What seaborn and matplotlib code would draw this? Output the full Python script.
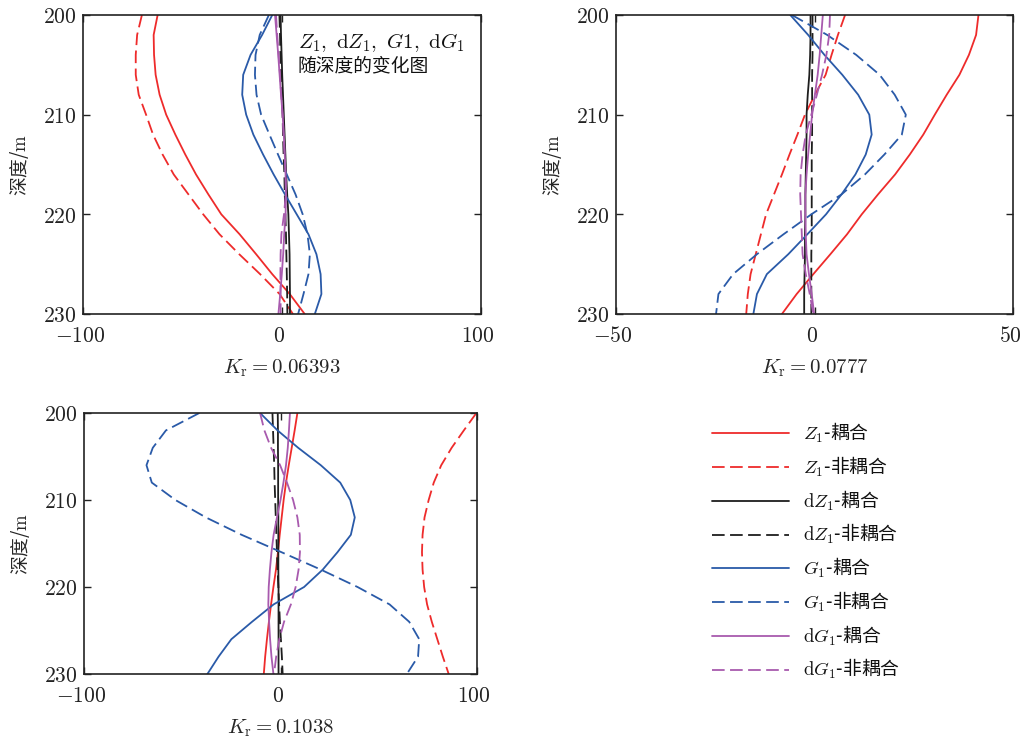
import numpy as np
import pandas as pd
import matplotlib
matplotlib.use("Agg")
import matplotlib.pyplot as plt
from matplotlib.ticker import FuncFormatter
from matplotlib.transforms import ScaledTranslation
import seaborn as sns

# ── DATA ──────────────────────────────────────────────────────────────────────
DEPTH = [200, 202, 204, 206, 208, 210, 212, 214, 216, 218, 220, 222, 224, 226, 228, 230]

# panel 1, Kr = 0.06393
P1_Z1_C  = [-62.5, -64.5, -64.3, -63.5, -61.5, -58.2, -53.6, -48.6, -43.2, -37.0, -30.5, -21.3, -13.0, -4.9, 3.9, 11.4]
P1_Z1_N  = [-70.4, -72.8, -73.5, -73.5, -72.0, -68.3, -64.8, -60.0, -54.4, -47.0, -39.6, -31.4, -21.5, -11.0, -1.2, 5.5]
P1_DZ1_C = [-0.7, -0.5, -0.2, 0.1, 0.5, 0.9, 1.3, 1.7, 2.1, 2.6, 3.2, 3.5, 3.8, 3.9, 4.0, 4.0]
P1_DZ1_N = [-1.3, -1.0, -0.8, -0.4, -0.1, 0.3, 0.5, 0.8, 1.2, 1.4, 1.7, 2.0, 2.2, 2.4, 2.6, 2.7]
P1_G1_C  = [-4.9, -10.0, -15.8, -19.5, -20.0, -18.0, -14.4, -9.5, -4.2, 1.5, 7.4, 13.3, 17.3, 19.4, 19.8, 16.5]
P1_G1_N  = [-6.6, -11.2, -13.3, -13.6, -12.8, -10.5, -6.3, -2.0, 2.4, 6.8, 10.4, 12.8, 14.0, 13.3, 10.8, 8.1]
P1_DG1_C = [-3.5, -2.7, -1.9, -1.2, -0.5, 0.3, 0.9, 1.4, 1.8, 2.0, 1.8, 1.1, 0.6, -0.1, -0.9, -1.8]
P1_DG1_N = [-3.0, -2.4, -1.7, -1.0, -0.4, 0.3, 0.8, 1.3, 1.8, 1.9, 1.0, -0.3, -0.7, -0.8, -0.7, -0.7]

# panel 2, Kr = 0.0777
P2_Z1_C  = [41.3, 40.7, 38.9, 36.5, 33.3, 30.3, 27.4, 24.0, 20.3, 16.0, 11.9, 8.2, 4.0, -0.3, -4.5, -8.2]
P2_Z1_N  = [7.7, 5.9, 4.3, 2.8, 0.1, -2.4, -4.3, -6.3, -8.2, -10.2, -12.2, -13.5, -14.8, -16.1, -16.8, -17.2]
P2_DZ1_C = [-1.0, -1.0, -1.1, -1.3, -1.7, -2.0, -2.0, -2.1, -2.2, -2.3, -2.3, -2.4, -2.4, -2.5, -2.6, -2.6]
P2_DZ1_N = [-0.5, -0.5, -0.5, -0.6, -0.6, -0.6, -0.6, -0.7, -0.7, -0.7, -0.7, -0.7, -0.8, -0.8, -0.8, -0.8]
P2_G1_C  = [-6.1, -1.6, 2.5, 7.0, 11.0, 13.8, 14.4, 12.9, 10.3, 6.8, 2.9, -1.8, -6.6, -12.0, -14.5, -15.4]
P2_G1_N  = [-5.7, 3.2, 10.5, 16.4, 20.2, 23.0, 22.0, 17.6, 12.7, 6.8, -0.8, -7.8, -14.5, -20.5, -24.2, -24.8]
P2_DG1_C = [2.1, 1.7, 1.3, 0.8, 0.1, -0.6, -1.1, -1.6, -2.0, -2.3, -2.3, -2.2, -2.0, -1.4, -0.7, -0.1]
P2_DG1_N = [3.9, 3.7, 3.0, 1.9, 0.6, -0.8, -2.2, -3.0, -3.5, -3.6, -3.4, -3.2, -3.0, -2.2, -1.2, -0.3]

# panel 3, Kr = 0.1038
P3_Z1_C  = [8.6, 7.2, 5.7, 4.2, 2.8, 1.6, 0.6, -0.4, -1.3, -2.3, -3.6, -4.8, -5.9, -6.9, -7.8, -8.5]
P3_Z1_N  = [99.7, 93.3, 87.1, 81.8, 78.0, 75.4, 73.3, 72.3, 72.0, 72.3, 73.1, 74.6, 77.0, 79.8, 82.6, 85.6]
P3_DZ1_C = [-1.4, -1.3, -1.3, -1.2, -1.2, -1.2, -1.1, -1.1, -1.1, -1.1, -1.0, -1.0, -1.0, -1.0, -1.0, -1.0]
P3_DZ1_N = [-4.1, -3.8, -3.5, -3.2, -3.0, -2.7, -2.4, -2.1, -1.8, -1.5, -1.1, -0.7, -0.3, 0.2, 0.7, 1.1]
P3_G1_C  = [-10.4, -1.5, 9.0, 20.5, 30.4, 35.5, 37.8, 35.8, 29.0, 21.5, 12.0, -3.5, -14.5, -25.0, -31.5, -37.2]
P3_G1_N  = [-41.3, -58.3, -65.0, -68.2, -65.5, -53.5, -38.0, -19.8, 0.5, 20.5, 39.2, 55.5, 65.5, 70.6, 70.0, 64.3]
P3_DG1_C = [4.8, 4.3, 3.7, 2.8, 1.5, 0.0, -1.8, -3.5, -4.6, -5.4, -6.0, -6.2, -5.8, -5.3, -4.6, -3.6]
P3_DG1_N = [-10.4, -8.2, -4.8, -0.2, 3.3, 6.4, 8.6, 9.8, 9.9, 9.2, 7.7, 5.3, 1.8, -0.6, -2.2, -3.3]

SERIES = [r"$Z_1$-耦合", r"$Z_1$-非耦合", r"$\mathrm{d}Z_1$-耦合", r"$\mathrm{d}Z_1$-非耦合",
          r"$G_1$-耦合", r"$G_1$-非耦合", r"$\mathrm{d}G_1$-耦合", r"$\mathrm{d}G_1$-非耦合"]
KR_LABELS = [r"$K_\mathrm{r} = 0.06393$", r"$K_\mathrm{r} = 0.0777$", r"$K_\mathrm{r} = 0.1038$"]
XLIMS = [(-100, 100), (-50, 50), (-100, 100)]
XTICKS = [[-100, 0, 100], [-50, 0, 50], [-100, 0, 100]]
YTICKS = [200, 210, 220, 230]
NOTE_1 = r"$Z_1,\ \mathrm{d}Z_1,\ G1,\ \mathrm{d}G_1$"
NOTE_2 = "随深度的变化图"

PANELS = [
    [P1_Z1_C, P1_Z1_N, P1_DZ1_C, P1_DZ1_N, P1_G1_C, P1_G1_N, P1_DG1_C, P1_DG1_N],
    [P2_Z1_C, P2_Z1_N, P2_DZ1_C, P2_DZ1_N, P2_G1_C, P2_G1_N, P2_DG1_C, P2_DG1_N],
    [P3_Z1_C, P3_Z1_N, P3_DZ1_C, P3_DZ1_N, P3_G1_C, P3_G1_N, P3_DG1_C, P3_DG1_N],
]

# ── STYLE ─────────────────────────────────────────────────────────────────────
RED    = "#ee2b2b"
BLACK  = "#1e1e1e"
BLUE   = "#2a5aa8"
PURPLE = "#a85aae"
COLORS = [RED, RED, BLACK, BLACK, BLUE, BLUE, PURPLE, PURPLE]
SOLID  = "-"
DASHED = (0, (7, 3))
STYLES = [SOLID, DASHED] * 4

sns.set_theme(style="ticks")
plt.rcParams.update({
    "font.family"      : ["Noto Sans CJK SC", "DejaVu Sans"],
    "mathtext.fontset" : "cm",
    "axes.linewidth"   : 1.2,
    "axes.edgecolor"   : "#222222",
    "xtick.direction"  : "in",
    "ytick.direction"  : "in",
    "xtick.color"      : "#222222",
    "ytick.color"      : "#222222",
    "text.color"       : "#111111",
})

FS_TICK = 15.5
FS_LAB  = 15
FS_CJK  = 13.5

fig = plt.figure(figsize=(10.21, 7.40), dpi=100, facecolor="white")

boxes = [
    [83 / 1021, 1 - 314 / 740, 398 / 1021, 299 / 740],
    [616 / 1021, 1 - 314 / 740, 397 / 1021, 299 / 740],
    [84 / 1021, 1 - 674 / 740, 393 / 1021, 261 / 740],
]

math_fmt = FuncFormatter(lambda v, p: f"${v:g}$")
# the reference's x tick labels sit a few pixels left of their ticks
shift_left = ScaledTranslation(-0.03, 0, fig.dpi_scale_trans)

handles = []
for i, (box, curves) in enumerate(zip(boxes, PANELS)):
    ax = fig.add_axes(box)
    for vals, lab, col, ls in zip(curves, SERIES, COLORS, STYLES):
        df = pd.DataFrame({"x": vals, "depth": DEPTH})
        sns.lineplot(data=df, x="x", y="depth", orient="y", estimator=None,
                     color=col, linestyle=ls, lw=1.3, ax=ax, label=lab, legend=False)
    ax.set_xlim(*XLIMS[i])
    ax.set_ylim(230, 200)
    ax.set_xticks(XTICKS[i])
    ax.set_yticks(YTICKS)
    ax.xaxis.set_major_formatter(math_fmt)
    ax.yaxis.set_major_formatter(math_fmt)
    ax.tick_params(top=True, right=True, length=5, width=1.0, labelsize=FS_TICK)
    ax.tick_params(axis="x", pad=8)
    ax.tick_params(axis="y", pad=5)
    for t in ax.get_xticklabels():
        t.set_transform(t.get_transform() + shift_left)
    ax.set_xlabel(KR_LABELS[i], fontsize=FS_LAB, labelpad=7)
    ax.set_ylabel("深度/$\\mathrm{m}$", fontsize=FS_CJK, labelpad=8)
    for s in ax.spines.values():
        s.set_visible(True)
    if i == 0:
        handles = ax.get_lines()
        ax.text(0.54, 0.945, NOTE_1, transform=ax.transAxes, fontsize=FS_LAB,
                ha="left", va="top")
        ax.text(0.54, 0.865, NOTE_2, transform=ax.transAxes, fontsize=FS_CJK,
                ha="left", va="top")

fig.legend(handles=handles, labels=SERIES, loc="upper left",
           bbox_to_anchor=(712 / 1021, 1 - 421 / 740), frameon=False,
           fontsize=FS_CJK, handlelength=4.1, handletextpad=0.75,
           labelspacing=0.51, borderpad=0, borderaxespad=0)

fig.savefig("out.png", dpi=100, facecolor="white")
